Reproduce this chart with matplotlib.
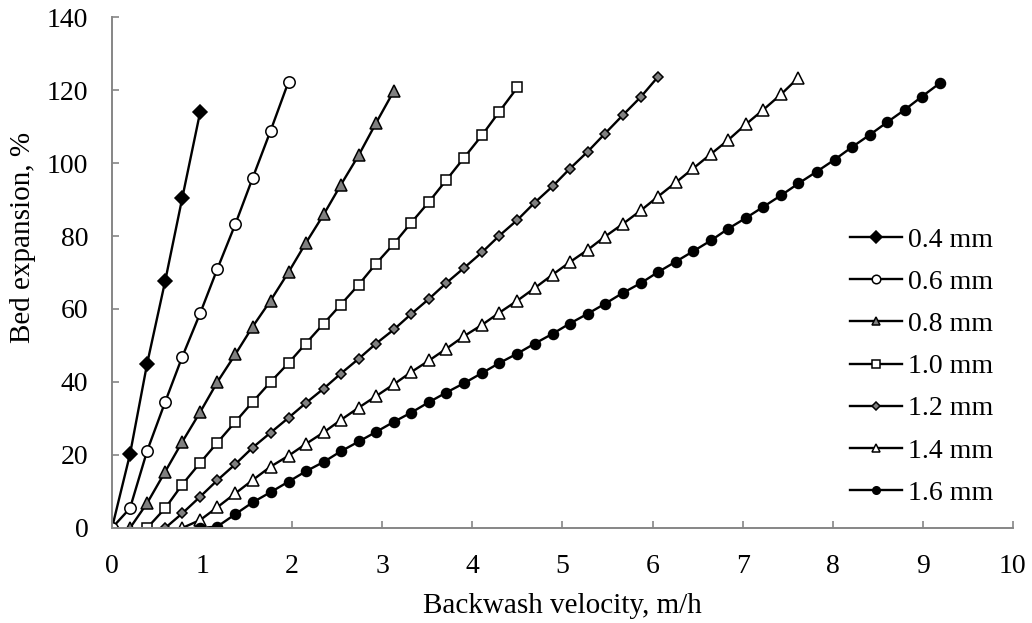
import matplotlib
matplotlib.use("Agg")
import matplotlib.pyplot as plt

# Shared velocity grid (m/h)
velocity = [0.00, 0.20, 0.39, 0.59, 0.78, 0.98, 1.17, 1.37, 1.56, 1.76,
            1.96, 2.15, 2.35, 2.54, 2.74, 2.93, 3.13, 3.32, 3.52, 3.71,
            3.91, 4.11, 4.30, 4.50, 4.69, 4.89, 5.08, 5.28, 5.47, 5.67,
            5.87, 6.06, 6.26, 6.45, 6.65, 6.84, 7.04, 7.23, 7.43, 7.62,
            7.82, 8.02, 8.21, 8.41, 8.60, 8.80, 8.99, 9.19]

labels = ["0.4 mm", "0.6 mm", "0.8 mm", "1.0 mm", "1.2 mm", "1.4 mm", "1.6 mm"]
start_index = [0, 0, 1, 2, 3, 4, 5]

exp_04 = [0, 20.2, 45.0, 67.6, 90.4, 114.1]
exp_06 = [0, 5.4, 21.1, 34.5, 46.9, 58.9, 71.0, 83.3, 95.8, 108.8, 122.3]
exp_08 = [0, 6.8, 15.4, 23.6, 31.8, 40.0, 47.6, 55.1, 62.3, 70.1, 78.0,
          85.9, 94.0, 102.2, 110.9, 119.8]
exp_10 = [0, 5.4, 11.9, 17.9, 23.4, 29.1, 34.5, 40.0, 45.2, 50.5, 56.0,
          61.2, 66.7, 72.4, 77.9, 83.6, 89.4, 95.3, 101.5, 107.7, 114.1, 120.7]
exp_12 = [0, 4.0, 8.6, 13.1, 17.5, 22.0, 26.1, 30.2, 34.2, 38.2, 42.3,
          46.4, 50.5, 54.4, 58.6, 62.8, 67.1, 71.3, 75.6, 80.1, 84.4, 89.1,
          93.6, 98.4, 103.1, 108.0, 113.1, 118.1, 123.6]
exp_14 = [0, 2.2, 5.7, 9.5, 13.1, 16.8, 19.8, 23.0, 26.2, 29.6, 33.0,
          36.1, 39.4, 42.7, 45.9, 49.1, 52.6, 55.7, 59.0, 62.3, 65.7, 69.4,
          72.8, 76.2, 79.8, 83.3, 87.0, 90.8, 94.7, 98.5, 102.5, 106.3,
          110.7, 114.6, 118.9, 123.4]
exp_16 = [0, 0.4, 3.8, 7.0, 9.8, 12.7, 15.5, 18.1, 21.0, 23.7, 26.3,
          29.1, 31.6, 34.5, 37.1, 39.7, 42.5, 45.2, 47.8, 50.5, 53.2, 56.0,
          58.7, 61.4, 64.4, 67.1, 70.1, 73.0, 75.8, 78.8, 82.0, 85.0, 88.0,
          91.2, 94.4, 97.6, 100.9, 104.3, 107.7, 111.1, 114.6, 118.2, 121.9]

series = [exp_04, exp_06, exp_08, exp_10, exp_12, exp_14, exp_16]

x_ticks = [0, 1, 2, 3, 4, 5, 6, 7, 8, 9, 10]
y_ticks = [0, 20, 40, 60, 80, 100, 120, 140]

GRAY = "#808080"
styles = [
    dict(marker="D", ms=7.6, mfc="black", mec="black"),
    dict(marker="o", ms=8.2, mfc="white", mec="black"),
    dict(marker="^", ms=8.4, mfc=GRAY, mec="black"),
    dict(marker="s", ms=7.4, mfc="white", mec="black"),
    dict(marker="D", ms=5.3, mfc=GRAY, mec="black"),
    dict(marker="^", ms=8.4, mfc="white", mec="black"),
    dict(marker="o", ms=7.2, mfc="black", mec="black"),
]

plt.rcParams["font.family"] = ["Liberation Serif", "DejaVu Serif"]
plt.rcParams["font.size"] = 20

fig = plt.figure(figsize=(10.32, 6.23), dpi=100)
ax = fig.add_axes([0.1085, 0.1525, 0.873, 0.8202])

for lab, s0, ys, st in zip(labels, start_index, series, styles):
    xs = velocity[s0:s0 + len(ys)]
    ax.plot(xs, ys, color="black", lw=1.7, mew=1.1, label=lab, **st)

ax.set_xlim(0, 10)
ax.set_ylim(0, 140)
ax.set_xticks(x_ticks)
ax.set_yticks(y_ticks)

for side in ("top", "right"):
    ax.spines[side].set_visible(False)
for side in ("left", "bottom"):
    ax.spines[side].set_color("#868686")
    ax.spines[side].set_linewidth(1.4)

ax.tick_params(axis="x", direction="in", length=5, width=1.2, color="#868686", pad=19)
ax.tick_params(axis="y", direction="in", length=5, width=1.2, color="#868686", pad=17)

ax.set_xlabel("Backwash velocity, m/h", fontsize=21)
ax.set_ylabel("Bed expansion, %", fontsize=21)
ax.xaxis.set_label_coords(0.5, -0.153)
ax.yaxis.set_label_coords(-0.099, 0.568)
ax.xaxis.label.set_verticalalignment("center")
ax.yaxis.label.set_verticalalignment("center")
ax.yaxis.label.set_horizontalalignment("center")

leg = ax.legend(loc="upper left", bbox_to_anchor=(0.819, 0.588), frameon=False,
                handlelength=1.87, handletextpad=0.22, labelspacing=0.6,
                markerscale=0.75, borderaxespad=0, borderpad=0)

fig.savefig("out.png", dpi=100)
